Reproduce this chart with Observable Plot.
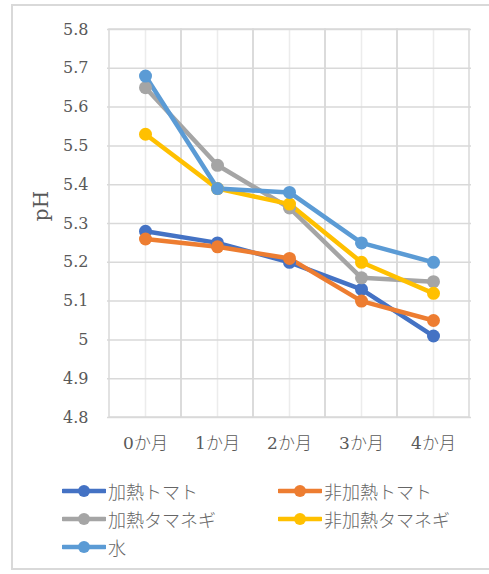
<!DOCTYPE html>
<html><head><meta charset="utf-8">
<script src="https://cdn.jsdelivr.net/npm/d3@7"></script>
<script src="https://cdn.jsdelivr.net/npm/@observablehq/plot@0.6"></script>
<style>
body{margin:0;background:#fff;width:489px;height:574px;overflow:hidden;position:relative;font-family:"DejaVu Serif","Noto Sans CJK JP",serif;}
#frame{position:absolute;left:11px;top:4px;width:500px;height:566px;border:2px solid #d9d9d9;box-sizing:border-box;}
#chart{position:absolute;left:0;top:0;}
#ylab{position:absolute;left:41px;top:206px;transform:translate(-50%,-50%) rotate(-90deg);font-size:20px;color:#595959;white-space:nowrap;font-family:"DejaVu Serif",serif;}
.leg{position:absolute;display:flex;align-items:center;font-size:18px;color:#666;font-family:"Noto Sans CJK JP",sans-serif;font-weight:300;white-space:nowrap;}
.leg svg{margin-right:2px;}
</style></head>
<body>
<div id="frame"></div>
<div id="chart"></div>
<div id="ylab">pH</div>
<div id="legend"></div>
<script>
const months = ["0か月","1か月","2か月","3か月","4か月"];
const seriesNames = ["加熱トマト","非加熱トマト","加熱タマネギ","非加熱タマネギ","水"];
const seriesColors = ["#4472C4","#ED7D31","#A5A5A5","#FFC000","#5B9BD5"];
const heatedTomato = [5.28,5.25,5.20,5.13,5.01];
const rawTomato = [5.26,5.24,5.21,5.10,5.05];
const heatedOnion = [5.65,5.45,5.34,5.16,5.15];
const rawOnion = [5.53,5.39,5.35,5.20,5.12];
const water = [5.68,5.39,5.38,5.25,5.20];
const yTicks = [4.8,4.9,5.0,5.1,5.2,5.3,5.4,5.5,5.6,5.7,5.8];
const yLabel = "pH";

const allValues = [heatedTomato,rawTomato,heatedOnion,rawOnion,water];
const rows = [];
allValues.forEach((vals,si)=>vals.forEach((v,i)=>rows.push({series:seriesNames[si],month:months[i],value:v})));

const plot = Plot.plot({
  width:489, height:470,
  marginLeft:107, marginRight:18, marginTop:29, marginBottom:53,
  style:{fontFamily:'"DejaVu Serif","Noto Sans CJK JP",serif',background:"transparent"},
  x:{type:"band",domain:months,padding:0},
  y:{domain:[4.8,5.8]},
  color:{domain:seriesNames,range:seriesColors},
  marks:[
    Plot.ruleX(months,{x:d=>d,stroke:"#ececec",strokeWidth:1.5}),
    Plot.ruleY(yTicks,{y:d=>d,stroke:"#d9d9d9",strokeWidth:1.5}),
    Plot.cell(months,{x:d=>d,fill:"none",stroke:"#d9d9d9",strokeWidth:1.5,inset:0}),
    Plot.axisY({ticks:yTicks,tickSize:0,tickPadding:19,tickFormat:d=>String(+d.toFixed(1)),fontSize:16,fill:"#595959",label:null}),
    Plot.axisX({tickSize:0,tickPadding:19,fontSize:17,fill:"#595959",fontWeight:300,label:null}),
    Plot.line(rows,{x:"month",y:"value",z:"series",stroke:"series",strokeWidth:4.5,strokeLinejoin:"round"}),
    Plot.dot(rows,{x:"month",y:"value",fill:"series",r:6.5,stroke:null})
  ]
});
document.getElementById("chart").appendChild(plot);
document.getElementById("ylab").textContent = yLabel;

const legend = document.getElementById("legend");
const pos = [[62,491],[278,491],[62,519],[278,519],[62,547]];
seriesNames.forEach((name,i)=>{
  const d = document.createElement("div");
  d.className="leg";
  d.style.left=pos[i][0]+"px";
  d.style.top=(pos[i][1]-14)+"px";
  d.style.height="28px";
  d.innerHTML = `<svg width="44" height="14"><line x1="1" y1="7" x2="43" y2="7" stroke="${seriesColors[i]}" stroke-width="4.5" stroke-linecap="round"/><circle cx="22" cy="7" r="6" fill="${seriesColors[i]}"/></svg><span>${name}</span>`;
  legend.appendChild(d);
});
</script>
</body></html>
